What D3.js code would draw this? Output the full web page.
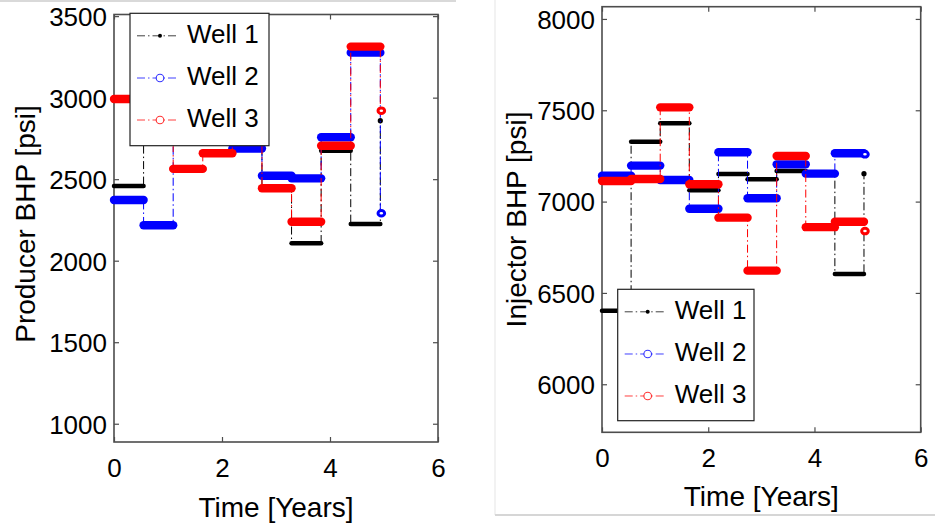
<!DOCTYPE html>
<html>
<head>
<meta charset="utf-8">
<script src="https://cdn.jsdelivr.net/npm/d3@7"></script>
<style>
  html, body { margin: 0; padding: 0; background: #fff; }
  svg { display: block; }
  text { font-family: "Liberation Sans", Arial, Helvetica, sans-serif; fill: #000; }
</style>
</head>
<body>
<svg id="fig" width="935" height="529"></svg>
<script>
// Control-step start times in years (200-day control intervals), last entry is the end time
const stepYears = [0, 0.548, 1.096, 1.644, 2.192, 2.740, 3.288, 3.836, 4.384, 4.932];

const wellNames = ["Well 1", "Well 2", "Well 3"];

// Producer bottom-hole pressure per control step [psi]; last value is the end point
const producerWell1 = [2458, 2880, 2930, 2850, 2790, 2445, 2107, 2675, 2225, 2859];
const producerWell2 = [2372, 2217, 2950, 2800, 2688, 2521, 2505, 2757, 3276, 2291];
const producerWell3 = [2992, 3100, 2563, 2659, 2760, 2444, 2239, 2705, 3313, 2920];

// Injector bottom-hole pressure per control step [psi]; last value is the end point
const injectorWell1 = [6403, 7328, 7429, 7062, 7151, 7122, 7168, 7155, 6604, 7153];
const injectorWell2 = [7142, 7197, 7118, 6961, 7270, 7018, 7204, 7153, 7265, 7259];
const injectorWell3 = [7113, 7124, 7516, 7095, 6912, 6622, 7250, 6860, 6890, 6839];

const xTicks = [0, 2, 4, 6];
const producerTicks = [1000, 1500, 2000, 2500, 3000, 3500];
const injectorTicks = [6000, 6500, 7000, 7500, 8000];

const xLabel = "Time [Years]";

// Line styles for the three wells
const wellStyles = [
  { color: "#000000", marker: "dot" },
  { color: "#0000ff", marker: "circle" },
  { color: "#ff0000", marker: "circle" }
];

const panels = [
  {
    box: { left: 114, right: 438, top: 14.5, bottom: 442 },
    yDomain: [888, 3510],
    yTicks: producerTicks,
    series: [producerWell1, producerWell2, producerWell3],
    yLabel: "Producer BHP [psi]",
    yLabelPos: { x: 35, y: 224 },
    xLabelBaseline: 517,
    legend: { x: 130, y: 13.3, w: 139, h: 132.4 }
  },
  {
    box: { left: 602, right: 920.7, top: 6.7, bottom: 432.3 },
    yDomain: [5737, 8067],
    yTicks: injectorTicks,
    series: [injectorWell1, injectorWell2, injectorWell3],
    yLabel: "Injector BHP [psi]",
    yLabelPos: { x: 526, y: 219.5 },
    xLabelBaseline: 506,
    legend: { x: 617.7, y: 289.3, w: 136.3, h: 131.4 }
  }
];

const svg = d3.select("#fig");

// faint frame lines around the two figure panes
svg.append("line").attr("x1", 0).attr("x2", 456).attr("y1", 1).attr("y2", 1)
  .attr("stroke", "#d9d9d9").attr("stroke-width", 2);
svg.append("line").attr("x1", 495).attr("x2", 495).attr("y1", 0).attr("y2", 515)
  .attr("stroke", "#eeeeee").attr("stroke-width", 1.5);
svg.append("line").attr("x1", 495).attr("x2", 935).attr("y1", 515).attr("y2", 515)
  .attr("stroke", "#d6d6d6").attr("stroke-width", 2);

const tickFont = 26;
const labelFont = 28;
const barWidth = { dot: 4.5, circle: 8.4 };

panels.forEach(p => {
  const b = p.box;
  const x = d3.scaleLinear().domain([0, 6]).range([b.left, b.right]);
  const y = d3.scaleLinear().domain(p.yDomain).range([b.bottom, b.top]);
  const g = svg.append("g");

  // axes (ticks point inward on all four sides)
  const axStroke = "#4d4d4d";
  const bottomAx = g.append("g").attr("transform", `translate(0,${b.bottom})`)
    .call(d3.axisBottom(x).tickValues(xTicks).tickSizeInner(-5).tickSizeOuter(0).tickFormat(d3.format("d")));
  bottomAx.selectAll("text").attr("y", 35).attr("dy", null).style("font-size", tickFont + "px");

  const topAx = g.append("g").attr("transform", `translate(0,${b.top})`)
    .call(d3.axisTop(x).tickValues(xTicks).tickSizeInner(-5).tickSizeOuter(0).tickFormat(""));

  const leftAx = g.append("g").attr("transform", `translate(${b.left},0)`)
    .call(d3.axisLeft(y).tickValues(p.yTicks).tickSizeInner(-5).tickSizeOuter(0).tickFormat(d3.format("d")));
  leftAx.selectAll("text").attr("x", -7).attr("dy", "0.36em").style("font-size", tickFont + "px");

  const rightAx = g.append("g").attr("transform", `translate(${b.right},0)`)
    .call(d3.axisRight(y).tickValues(p.yTicks).tickSizeInner(-5).tickSizeOuter(0).tickFormat(""));

  [bottomAx, topAx, leftAx, rightAx].forEach(a => {
    a.select(".domain").remove();
    a.selectAll("line").attr("stroke", axStroke).attr("stroke-width", 1.2);
    a.selectAll("text").attr("fill", "#000").style("font-family", "'Liberation Sans', Arial, sans-serif");
  });

  g.append("rect")
    .attr("x", b.left).attr("y", b.top)
    .attr("width", b.right - b.left).attr("height", b.bottom - b.top)
    .attr("fill", "none").attr("stroke", axStroke).attr("stroke-width", 1.6);

  // data: dash-dot step connector, then dense-marker bars for every control step
  const stepLine = d3.line()
    .x((d, i) => x(stepYears[i]))
    .y(d => y(d))
    .curve(d3.curveStepAfter);

  p.series.forEach((vals, w) => {
    const st = wellStyles[w];
    const wg = g.append("g");
    wg.append("path")
      .attr("d", stepLine(vals))
      .attr("fill", "none")
      .attr("stroke", st.color)
      .attr("stroke-width", 1)
      .attr("stroke-dasharray", "8,3,1.5,3");

    const segs = vals.slice(0, stepYears.length - 1).map((v, i) => ({ t0: stepYears[i], t1: stepYears[i + 1], v }));
    wg.selectAll("line.bar").data(segs).join("line")
      .attr("class", "bar")
      .attr("x1", d => x(d.t0)).attr("x2", d => x(d.t1))
      .attr("y1", d => y(d.v)).attr("y2", d => y(d.v))
      .attr("stroke", st.color)
      .attr("stroke-width", barWidth[st.marker])
      .attr("stroke-linecap", "round");

    const endT = stepYears[stepYears.length - 1];
    const endV = vals[vals.length - 1];
    if (st.marker === "dot") {
      wg.append("circle").attr("cx", x(endT)).attr("cy", y(endV)).attr("r", 2.6).attr("fill", st.color);
    } else {
      wg.append("ellipse").attr("cx", x(endT) + 1).attr("cy", y(endV)).attr("rx", 3.3).attr("ry", 2.8)
        .attr("fill", "#fff").attr("stroke", st.color).attr("stroke-width", 3);
    }
  });

  // axis labels
  g.append("text")
    .attr("x", (b.left + b.right) / 2).attr("y", p.xLabelBaseline)
    .attr("text-anchor", "middle").style("font-size", labelFont + "px")
    .text(xLabel);
  g.append("text")
    .attr("transform", `translate(${p.yLabelPos.x},${p.yLabelPos.y}) rotate(-90)`)
    .attr("text-anchor", "middle").style("font-size", labelFont + "px")
    .text(p.yLabel);

  // legend
  const L = p.legend;
  const lg = g.append("g").attr("transform", `translate(${L.x},${L.y})`);
  lg.append("rect").attr("width", L.w).attr("height", L.h)
    .attr("fill", "#fff").attr("stroke", "#222").attr("stroke-width", 1.2);
  const baselines = [29.5, 71.7, 113.7];
  wellNames.forEach((name, i) => {
    const st = wellStyles[i];
    const ly = baselines[i] - 7;
    lg.append("line").attr("x1", 7).attr("x2", 46).attr("y1", ly).attr("y2", ly)
      .attr("stroke", st.color).attr("stroke-width", 1).attr("stroke-opacity", 0.75)
      .attr("stroke-dasharray", "8,3,1.5,3");
    if (st.marker === "dot") {
      lg.append("circle").attr("cx", 30).attr("cy", ly).attr("r", 2).attr("fill", st.color);
    } else {
      lg.append("circle").attr("cx", 30).attr("cy", ly).attr("r", 3.8)
        .attr("fill", "#fff").attr("stroke", st.color).attr("stroke-width", 1.1).attr("stroke-opacity", 0.8);
    }
    lg.append("text").attr("x", 57).attr("y", baselines[i])
      .style("font-size", tickFont + "px").text(name);
  });
});
</script>
</body>
</html>
